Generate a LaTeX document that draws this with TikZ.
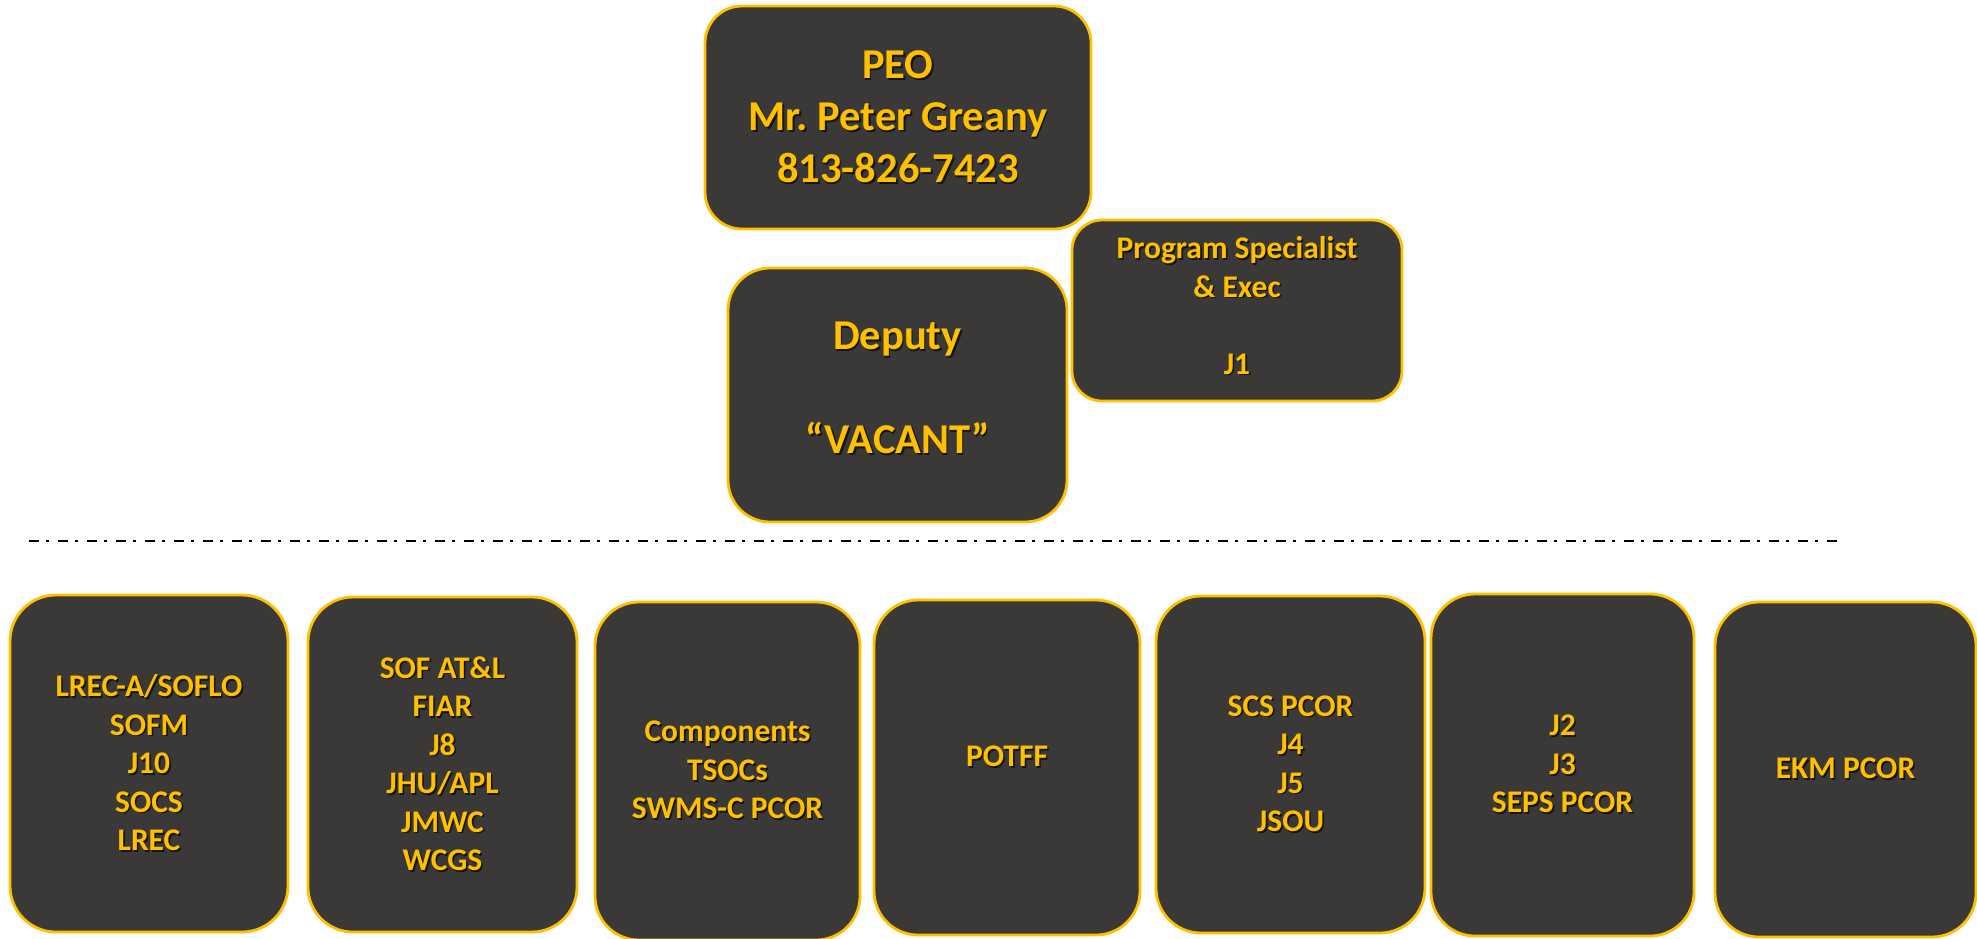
\documentclass[tikz,border=0pt]{standalone}
\usepackage{fontspec}
\setmainfont{Carlito}
\definecolor{gold}{HTML}{FFC000}
\definecolor{slate}{HTML}{3B3838}
\definecolor{shade}{HTML}{151414}
\newcommand{\dropby}[1]{\rule[-#1]{0pt}{0pt}}
\newcommand{\sh}[1]{\makebox[0pt][l]{\hspace{1.6pt}\raisebox{-1.6pt}{\textcolor{shade}{#1}}}#1}
\begin{document}
\begin{tikzpicture}[x=1pt,y=-1pt,
  box/.style={draw=gold, line width=2.8pt, fill=slate, text=gold, align=center, inner sep=0pt},
  big/.style={font=\fontsize{42.5}{52}\selectfont\bfseries},
  small/.style={font=\fontsize{31.5}{38.5}\selectfont\bfseries}]
\useasboundingbox (0,0) rectangle (1977,938);

\node[box, big, minimum width=386pt, minimum height=223pt, rounded corners=37pt] (peo) at (898,117.5)
  {\sh{PEO}\\\sh{Mr.\ Peter Greany}\\\sh{813-826-7423}};
\node[box, big, minimum width=339pt, minimum height=254pt, rounded corners=42pt] (dep) at (897.5,395)
  {\sh{Deputy}\\\mbox{}\\\sh{“VACANT”}\dropby{14pt}};
\node[box, small, minimum width=330pt, minimum height=181pt, rounded corners=30pt] (ps) at (1237,310.5)
  {\sh{Program Specialist}\\\sh{\& Exec}\\\mbox{}\\\sh{J1}\dropby{10pt}};

\coordinate (dl) at (29,541);
\coordinate (dr) at (1841,541);
\draw[line width=2.5pt, dash pattern=on 10pt off 7pt on 3pt off 9pt] (dl) -- (dr);

\node[box, small, minimum width=278pt, minimum height=337pt, rounded corners=46pt] (b1) at (149,763.5)
  {\sh{LREC-A/SOFLO}\\\sh{SOFM}\\\sh{J10}\\\sh{SOCS}\\\sh{LREC}};
\node[box, small, minimum width=269pt, minimum height=335pt, rounded corners=45pt] (b2) at (442.5,764.5)
  {\sh{SOF AT\&L}\\\sh{FIAR}\\\sh{J8}\\\sh{JHU/APL}\\\sh{JMWC}\\\sh{WCGS}};
\node[box, small, minimum width=265pt, minimum height=338pt, rounded corners=44pt] (b3) at (727.5,771)
  {\sh{Components}\\\sh{TSOCs}\\\sh{SWMS-C PCOR}};
\node[box, small, minimum width=266pt, minimum height=335pt, rounded corners=44pt] (b4) at (1007,767.5)
  {\sh{POTFF}\dropby{22pt}};
\node[box, small, minimum width=269pt, minimum height=337pt, rounded corners=45pt] (b5) at (1290.5,764.5)
  {\sh{SCS PCOR}\\\sh{J4}\\\sh{J5}\\\sh{JSOU}};
\node[box, small, minimum width=263pt, minimum height=342pt, rounded corners=44pt] (b6) at (1562.5,765)
  {\sh{J2}\\\sh{J3}\\\sh{SEPS PCOR}};
\node[box, small, minimum width=261pt, minimum height=335pt, rounded corners=44pt] (b7) at (1845.5,769.5)
  {\sh{EKM PCOR}};
\end{tikzpicture}
\end{document}
